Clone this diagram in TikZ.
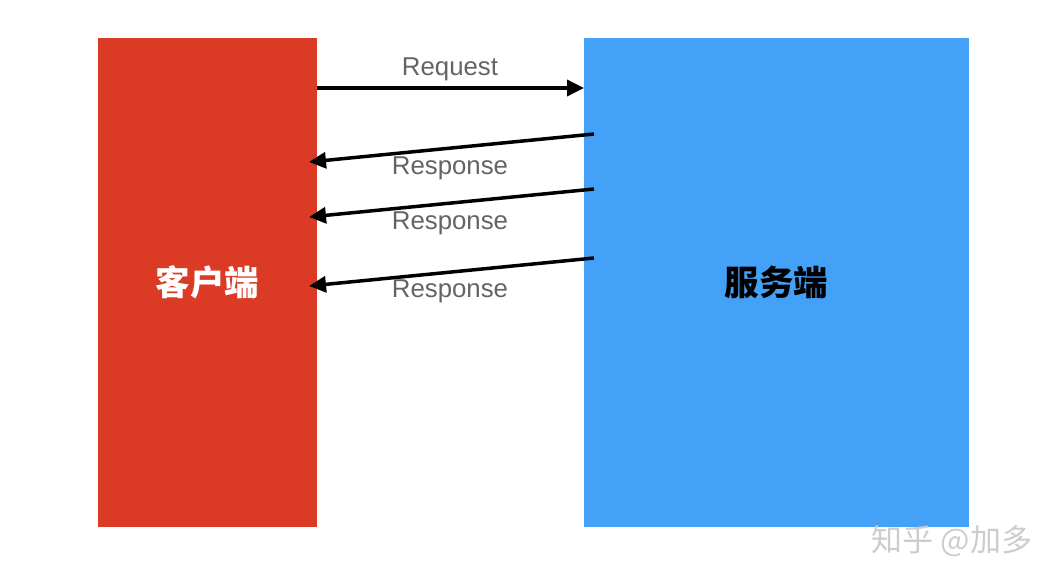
\documentclass[tikz,border=0pt]{standalone}
\usepackage{fontspec}
\setmainfont{Liberation Sans}
\newfontfamily\cjk{Noto Sans CJK SC}
\usetikzlibrary{arrows.meta}
\definecolor{clientred}{RGB}{219,59,37}
\definecolor{serverblue}{RGB}{68,161,248}
\definecolor{labelgray}{RGB}{100,100,100}
\definecolor{markgray}{RGB}{205,205,205}

\begin{document}
\begin{tikzpicture}[x=1pt,y=-1pt,
    box/.style={inner sep=0pt,minimum height=489pt,font=\cjk\bfseries\fontsize{34.5}{34.5}\selectfont},
    msg/.style={line width=3.5pt,-{Triangle[length=17pt,width=16pt]}},
    lbl/.style={anchor=base,text=labelgray,font=\fontsize{25.8}{25.8}\selectfont}]
    \useasboundingbox (0,0) rectangle (1064,586);
    \node[box,fill=clientred,minimum width=219pt,text=white] (client) at (207.5,282.5) {客户端};
    \node[box,fill=serverblue,minimum width=385pt] (server) at (776.5,282.5) {服务端};
    \coordinate (q1) at (317,88);
    \coordinate (q2) at (584,88);
    \coordinate (s1) at (594,134);
    \coordinate (c1) at (309,162);
    \coordinate (s2) at (594,189);
    \coordinate (c2) at (309,217);
    \coordinate (s3) at (594,258);
    \coordinate (c3) at (309,286);
    \draw[msg] (q1) to (q2);
    \draw[msg] (s1) to (c1);
    \draw[msg] (s2) to (c2);
    \draw[msg] (s3) to (c3);
    \node[lbl] (req) at (450,75) {Request};
    \node[lbl] (res1) at (450,174) {Response};
    \node[lbl] (res2) at (450,229) {Response};
    \node[lbl] (res3) at (450,297) {Response};
    \node[text=markgray,font=\cjk\fontsize{31}{31}\selectfont] (mark) at (952,541) {知乎 @加多};
\end{tikzpicture}
\end{document}
